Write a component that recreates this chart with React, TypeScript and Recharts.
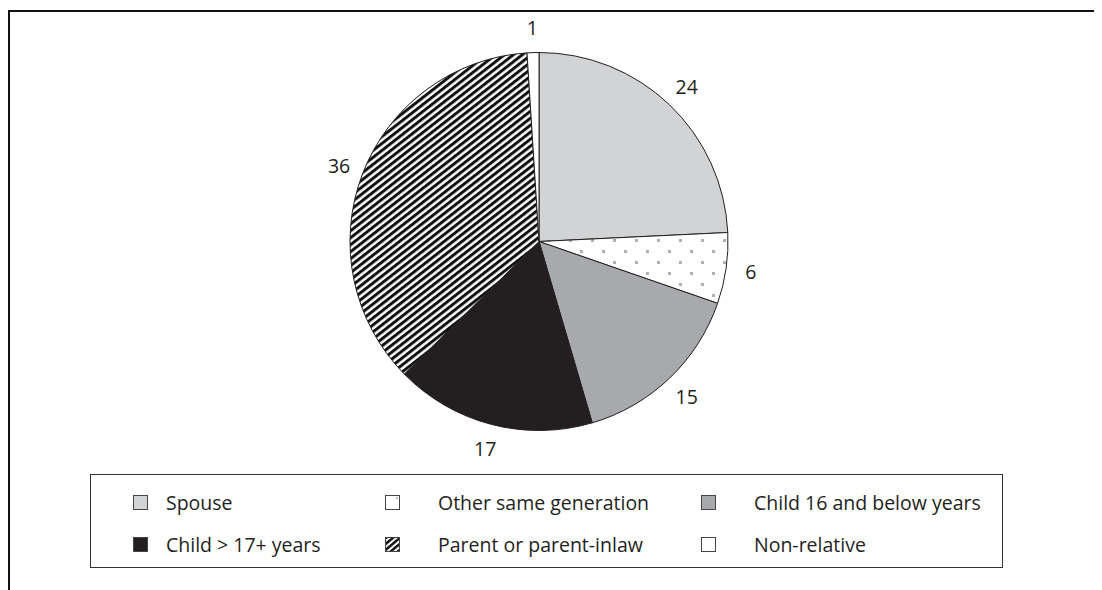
import React from "react";
import { PieChart, Pie, Cell } from "recharts";

const categories = [
  "Spouse",
  "Other same generation",
  "Child 16 and below years",
  "Child > 17+ years",
  "Parent or parent-inlaw",
  "Non-relative",
];
const values = [24, 6, 15, 17, 36, 1];
const fills = ["#d1d3d4", "url(#dots)", "#a7a9ac", "#231f20", "url(#hatch)", "#ffffff"];

const data = categories.map((name, i) => ({ name, value: values[i] }));

const FONT = "'Open Sans', sans-serif";
const RADIAN = Math.PI / 180;

const renderLabel = (props: any) => {
  const { cx, cy, midAngle, outerRadius, value } = props;
  const r = outerRadius + 25;
  const x = cx + r * Math.cos(-midAngle * RADIAN);
  const y = cy + r * Math.sin(-midAngle * RADIAN);
  return (
    <text
      x={x}
      y={y}
      textAnchor="middle"
      dominantBaseline="central"
      fontFamily={FONT}
      fontSize={19.5}
      fill="#231f20"
    >
      {value}
    </text>
  );
};

const colIcon = [42, 294, 610];
const colText = [75, 347, 663];
const rowY = [28, 70];

const LegendBox = () => (
  <div
    style={{
      position: "absolute",
      left: 82,
      top: 466,
      width: 911,
      height: 92,
      border: "1px solid #333",
      fontFamily: FONT,
      fontSize: 19.5,
      color: "#231f20",
      background: "#fff",
    }}
  >
    {categories.map((name, i) => {
      const col = i % 3;
      const row = Math.floor(i / 3);
      const plain = !fills[i].startsWith("url");
      return (
        <React.Fragment key={name}>
          <svg
            width={15}
            height={15}
            style={{ position: "absolute", left: colIcon[col], top: rowY[row] - 8 }}
          >
            <defs>
              <pattern id={`hatchL${i}`} width="4.5" height="4.5" patternUnits="userSpaceOnUse" patternTransform="rotate(-40)">
                <rect width="4.5" height="4.5" fill="#fff" />
                <rect width="4.5" height="2.5" fill="#111" />
              </pattern>
            </defs>
            <rect
              x={0.5}
              y={0.5}
              width={14}
              height={14}
              fill={i === 4 ? `url(#hatchL${i})` : plain ? fills[i] : "#fff"}
              stroke="#444"
              strokeWidth={1}
            />
            {i === 1 && <rect x={11} y={2} width={2} height={2} fill="#bbb" />}
          </svg>
          <div
            style={{
              position: "absolute",
              left: colText[col],
              top: rowY[row] - 14,
              lineHeight: "27px",
              whiteSpace: "nowrap",
            }}
          >
            {name}
          </div>
        </React.Fragment>
      );
    })}
  </div>
);

export default function App() {
  return (
    <div style={{ position: "relative", width: 1094, height: 582, background: "#fff" }}>
      <div
        style={{
          position: "absolute",
          left: 0,
          top: 2,
          right: 0,
          bottom: 0,
          borderTop: "2px solid #111",
          borderLeft: "2px solid #111",
        }}
      />
      <div style={{ position: "absolute", left: 0, top: 0 }}>
        <PieChart width={1094} height={582} margin={{ top: 0, right: 0, bottom: 0, left: 0 }}>
          <defs>
            <pattern id="dots" width="22" height="22" patternUnits="userSpaceOnUse">
              <rect width="22" height="22" fill="#fff" />
              <rect x="0" y="0" width="3" height="3" fill="#b0b0b0" />
              <rect x="11" y="11" width="3" height="3" fill="#b0b0b0" />
            </pattern>
            <pattern id="hatch" width="5.5" height="5.5" patternUnits="userSpaceOnUse" patternTransform="rotate(-38)">
              <rect width="5.5" height="5.5" fill="#fff" />
              <rect width="5.5" height="3" fill="#111" />
            </pattern>
          </defs>
          <Pie
            data={data}
            dataKey="value"
            nameKey="name"
            cx={531}
            cy={233.5}
            outerRadius={189}
            startAngle={90}
            endAngle={-270}
            stroke="#231f20"
            strokeWidth={1}
            label={renderLabel}
            labelLine={false}
            isAnimationActive={false}
          >
            {data.map((d, i) => (
              <Cell key={d.name} fill={fills[i]} />
            ))}
          </Pie>
        </PieChart>
      </div>
      <LegendBox />
    </div>
  );
}
